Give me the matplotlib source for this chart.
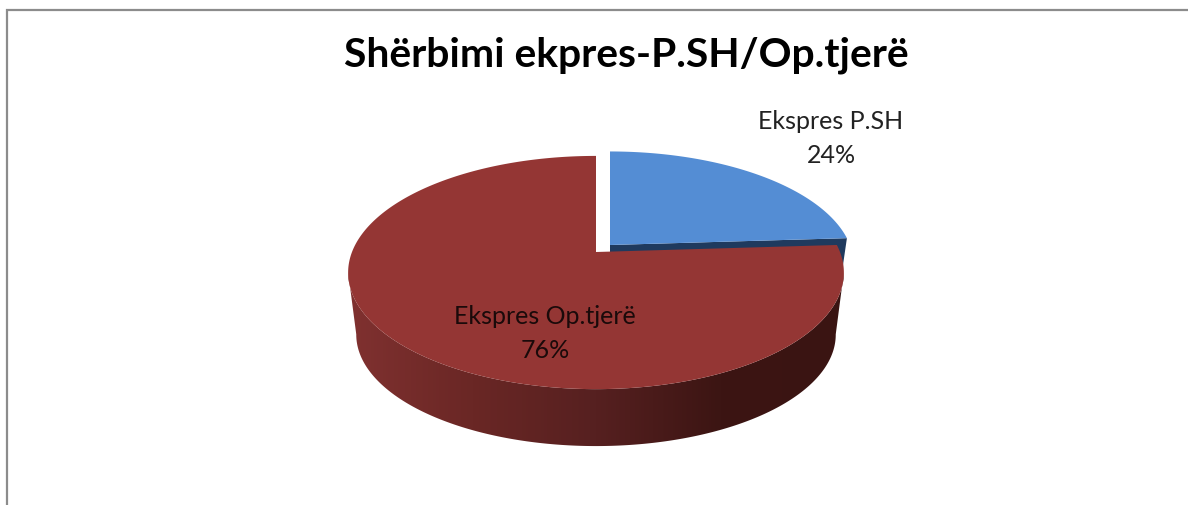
import numpy as np
import matplotlib
matplotlib.use("Agg")
import matplotlib.pyplot as plt
from matplotlib.colors import LinearSegmentedColormap
from matplotlib.patches import Polygon

TITLE = "Shërbimi ekpres-P.SH/Op.tjerë"
LABELS = ["Ekspres P.SH", "Ekspres Op.tjerë"]
SHARES = [24, 76]

BLUE = "#548DD4"
BLUE_DARK = "#1F3A5E"
RED = "#943634"
SIDE_COLORS = ["#803130", "#6a2725", "#562020", "#3c1513", "#3a1412"]

plt.rcParams["font.family"] = ["Lato", "DejaVu Sans"]

# perspective of the tilted disc
K = 0.176


def project(theta, cx, cy, a, b):
    # theta in degrees, counted counter clockwise from the right
    t = np.radians(theta)
    u, v = np.cos(t), np.sin(t)
    d = 1 + K * v
    return np.column_stack([cx + a * u / d, cy - b * v / d])


fig = plt.figure(figsize=(11.88, 5.06), dpi=100)
ax = fig.add_axes([0, 0, 1, 1])
ax.set_xlim(0, 1188)
ax.set_ylim(506, 0)
ax.axis("off")

# slices start at 12 o'clock and run clockwise
split = 90 - 360 * SHARES[0] / sum(SHARES)

top_red = (596, 253, 244, 113)
bot_red = (596, 316, 236, 108)
top_blue = (610, 246, 240, 110)
bot_blue = (610, 300, 232, 108)

# blue slice, extruded
p_top = project(np.array([split]), *top_blue)[0]
p_bot = project(np.array([split]), *bot_blue)[0]
ax.add_patch(Polygon([top_blue[:2], p_top, p_bot, bot_blue[:2]], fc=BLUE_DARK, ec="none", zorder=2))
arc = project(np.linspace(90, split, 120), *top_blue)
ax.add_patch(Polygon(np.vstack([[top_blue[:2]], arc]), fc=BLUE, ec="none", zorder=3))

# red side with gradient, closed along the outline of both rims
cmap = LinearSegmentedColormap.from_list("side", SIDE_COLORS)
top_arc = project(np.linspace(-10, -170, 300), *top_red)
bot_arc = project(np.linspace(-170, -10, 300), *bot_red)
side = Polygon(np.vstack([top_arc, bot_arc]), fc="none", ec="none", transform=ax.transData)
ax.add_patch(side)
grad = ax.imshow(np.linspace(0, 1, 256).reshape(1, -1), cmap=cmap, extent=(348, 845, 450, 240), aspect="auto", zorder=4)
grad.set_clip_path(side)
ax.set_xlim(0, 1188)
ax.set_ylim(506, 0)

# red slice on top
arc = project(np.linspace(split, 90 - 360, 400), *top_red)
ax.add_patch(Polygon(np.vstack([[top_red[:2]], arc]), fc=RED, ec="none", zorder=5))

ax.text(626, 55, TITLE, fontsize=29.3, fontweight="bold", color="black", ha="center", va="center", zorder=6)
ax.text(831, 121, LABELS[0], fontsize=18, color="#222222", ha="center", va="center", zorder=6)
ax.text(831, 155, f"{SHARES[0]}%", fontsize=18, color="#222222", ha="center", va="center", zorder=6)
ax.text(545, 316, LABELS[1], fontsize=18, color="#1a0a0a", ha="center", va="center", zorder=6)
ax.text(545, 350, f"{SHARES[1]}%", fontsize=18, color="#1a0a0a", ha="center", va="center", zorder=6)

# chart frame, cut off at the right and bottom
ax.plot([7, 7, 1188], [506, 11, 11], color="#8c8c8c", lw=1.6, solid_joinstyle="miter", zorder=1)

fig.savefig("out.png", dpi=100)
